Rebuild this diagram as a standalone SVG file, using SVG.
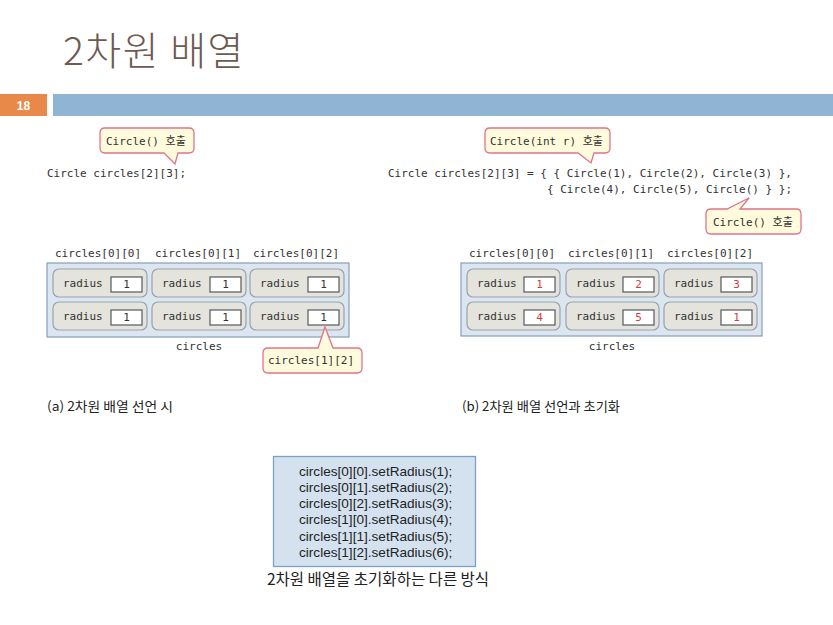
<svg xmlns="http://www.w3.org/2000/svg" width="833" height="625" viewBox="0 0 833 625">
<style>
.mono{font-family:"DejaVu Sans Mono","Liberation Mono","Noto Sans CJK KR",monospace;font-size:11px;fill:#333}
.kr{font-family:"Noto Sans CJK KR","Noto Sans",sans-serif;fill:#222}
.outer{fill:#dce6f1;stroke:#8a9fb8;stroke-width:1.2}
.cell{fill:#e4e3dc;stroke:#97a3ae;stroke-width:1.2}
.val{fill:#ffffff;stroke:#555a60;stroke-width:1.2}
.num{font-family:"DejaVu Sans Mono","Liberation Mono",monospace;font-size:11px;text-anchor:middle;fill:#333}
.red{fill:#e0383a}
.callout{fill:#fffbdc;stroke:#e0748c;stroke-width:1.3}
.code2{font-family:"Liberation Sans",Arial,sans-serif;font-size:13.6px;fill:#222}
</style>
<defs>
<g id="cellL">
<rect class="cell" x="0" y="0" width="94" height="28" rx="6"/>
<text class="mono" x="10" y="18">radius</text>
<rect class="val" x="58" y="8" width="31" height="15"/>
</g>
<g id="cellR">
<rect class="cell" x="0" y="0" width="93" height="28" rx="6"/>
<text class="mono" x="10" y="18">radius</text>
<rect class="val" x="57" y="8" width="31" height="15"/>
</g>
</defs>

<g id="header">
<text x="63" y="65" letter-spacing="1.5" style="font-family:'Noto Sans CJK KR','Noto Sans',sans-serif;font-size:39px;font-weight:300;fill:#6e5a51">2차원 배열</text>
<rect x="0" y="94" width="47" height="22" fill="#e8894a"/>
<text x="23.5" y="110" text-anchor="middle" style="font-family:'Liberation Sans',Arial,sans-serif;font-size:12px;font-weight:bold;fill:#fff">18</text>
<rect x="53" y="94" width="780" height="22" fill="#8fb4d4"/>
</g>

<g id="left-code">
<text class="mono" x="47" y="177">Circle circles[2][3];</text>
</g>

<g id="left-array">
<text class="mono" x="55" y="257">circles[0][0]</text>
<text class="mono" x="155" y="257">circles[0][1]</text>
<text class="mono" x="253" y="257">circles[0][2]</text>
<rect class="outer" x="47" y="263" width="302" height="74"/>
<use href="#cellL" x="53" y="269"/>
<use href="#cellL" x="152" y="269"/>
<use href="#cellL" x="250" y="269"/>
<use href="#cellL" x="53" y="302"/>
<use href="#cellL" x="152" y="302"/>
<use href="#cellL" x="250" y="302"/>
<text class="num" x="126.5" y="288">1</text>
<text class="num" x="225.5" y="288">1</text>
<text class="num" x="323.5" y="288">1</text>
<text class="num" x="126.5" y="321">1</text>
<text class="num" x="225.5" y="321">1</text>
<text class="num" x="323.5" y="321">1</text>
<text class="mono" x="199" y="350" text-anchor="middle">circles</text>
</g>

<g id="right-code">
<text class="mono" x="388" y="177">Circle circles[2][3] = { { Circle(1), Circle(2), Circle(3) },</text>
<text class="mono" x="547" y="193">{ Circle(4), Circle(5), Circle() } };</text>
</g>

<g id="right-array">
<text class="mono" x="469" y="257">circles[0][0]</text>
<text class="mono" x="568" y="257">circles[0][1]</text>
<text class="mono" x="667" y="257">circles[0][2]</text>
<rect class="outer" x="461" y="263" width="301" height="73"/>
<use href="#cellR" x="467" y="269"/>
<use href="#cellR" x="566" y="269"/>
<use href="#cellR" x="664" y="269"/>
<use href="#cellR" x="467" y="302"/>
<use href="#cellR" x="566" y="302"/>
<use href="#cellR" x="664" y="302"/>
<text class="num red" x="539.5" y="288">1</text>
<text class="num red" x="638.5" y="288">2</text>
<text class="num red" x="736.5" y="288">3</text>
<text class="num red" x="539.5" y="321">4</text>
<text class="num red" x="638.5" y="321">5</text>
<text class="num red" x="736.5" y="321">1</text>
<text class="mono" x="612" y="350" text-anchor="middle">circles</text>
</g>

<g id="callout-left">
<path class="callout" d="M105,128 H189 Q194,128 194,133 V148 Q194,153 189,153 H178 L175,164 L164,153 H105 Q100,153 100,148 V133 Q100,128 105,128 Z"/>
<text class="mono" x="106" y="145">Circle() 호출</text>
</g>

<g id="callout-int">
<path class="callout" d="M490,128 H605 Q610,128 610,133 V148 Q610,153 605,153 H594 L591,163 L578,153 H490 Q485,153 485,148 V133 Q485,128 490,128 Z"/>
<text class="mono" x="490" y="145">Circle(int r) 호출</text>
</g>

<g id="callout-default">
<path class="callout" d="M711,209 H727 L749,198 L740,209 H796 Q801,209 801,214 V229 Q801,234 796,234 H711 Q706,234 706,229 V214 Q706,209 711,209 Z"/>
<text class="mono" x="713" y="226">Circle() 호출</text>
</g>

<g id="callout-elem">
<path class="callout" d="M268,348 H318 L325,327 L333,348 H357 Q362,348 362,353 V368 Q362,373 357,373 H268 Q263,373 263,368 V353 Q263,348 268,348 Z"/>
<text class="mono" x="268" y="364">circles[1][2]</text>
</g>

<g id="captions">
<text class="kr" x="47" y="411" font-size="13" textLength="126" lengthAdjust="spacingAndGlyphs">(a)  2차원 배열 선언 시</text>
<text class="kr" x="462" y="411" font-size="13" textLength="158" lengthAdjust="spacingAndGlyphs">(b) 2차원 배열 선언과 초기화</text>
</g>

<g id="setradius-box">
<rect x="273.5" y="456.5" width="202" height="110" fill="#d4e2f0" stroke="#7e9fc7" stroke-width="1.3"/>
<text class="code2" x="299" y="475.5">circles[0][0].setRadius(1);</text>
<text class="code2" x="299" y="491.8">circles[0][1].setRadius(2);</text>
<text class="code2" x="299" y="508.1">circles[0][2].setRadius(3);</text>
<text class="code2" x="299" y="524.4">circles[1][0].setRadius(4);</text>
<text class="code2" x="299" y="540.7">circles[1][1].setRadius(5);</text>
<text class="code2" x="299" y="557">circles[1][2].setRadius(6);</text>
</g>

<g id="bottom-caption">
<text class="kr" x="267" y="585" font-size="15.5">2차원 배열을 초기화하는 다른 방식</text>
</g>
</svg>
